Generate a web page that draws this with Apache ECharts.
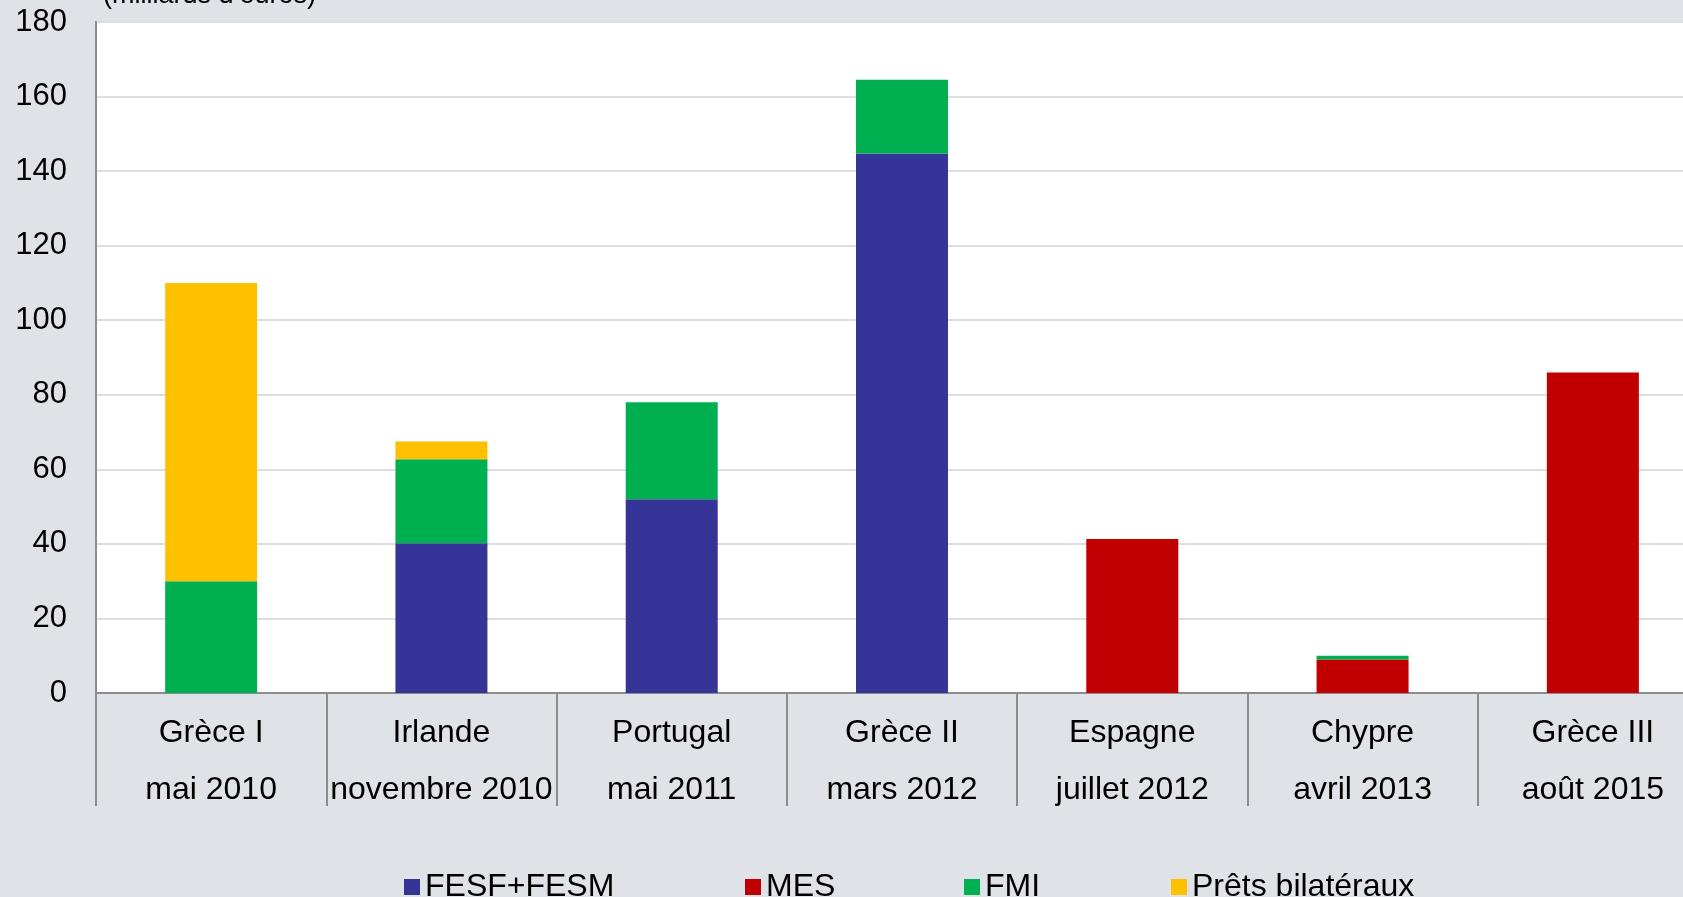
<!DOCTYPE html>
<html>
<head>
<meta charset="utf-8">
<script src="https://cdn.jsdelivr.net/npm/echarts@6/dist/echarts.min.js"></script>
<style>
  html, body { margin: 0; padding: 0; background: #dfe2e7; overflow: hidden; }
  #chart { width: 1730px; height: 897px; }
</style>
</head>
<body>
<div id="chart"></div>
<script>
// Programmes d'assistance financière (milliards d'euros)
const categories = [
  'Grèce I\nmai 2010',
  'Irlande\nnovembre 2010',
  'Portugal\nmai 2011',
  'Grèce II\nmars 2012',
  'Espagne\njuillet 2012',
  'Chypre\navril 2013',
  'Grèce III\naoût 2015'
];
const fesfFesm = [null, 40.2, 52, 144.7, null, null, null];
const mes = [null, null, null, null, 41.3, 9, 86];
const fmi = [30, 22.5, 26, 19.8, null, 1, null];
const pretsBilateraux = [80, 4.8, null, null, null, null, null];
const seriesNames = ['FESF+FESM', 'MES', 'FMI', 'Prêts bilatéraux'];
const seriesColors = ['#353597', '#c00000', '#00b050', '#ffc000'];
const yTicks = { min: 0, max: 180, interval: 20 };
const unitLabel = '(milliards d\u2019euros)';

const FONT = "'Liberation Sans', Arial, sans-serif";
const seriesData = [fesfFesm, mes, fmi, pretsBilateraux];
const legendLeft = [399, 740, 959, 1166];

const chart = echarts.init(document.getElementById('chart'));
chart.setOption({
  backgroundColor: '#dfe2e7',
  animation: false,
  textStyle: { fontFamily: FONT },
  grid: {
    left: 96, top: 22, width: 1612, bottom: 204,
    show: true, backgroundColor: '#ffffff',
    borderColor: '#8c8c8c', borderWidth: 2
  },
  graphic: [{
    type: 'text', left: 103, top: -18,
    style: { text: unitLabel, font: '27px ' + FONT, fill: '#000' }
  }],
  legend: seriesNames.map((n, i) => ({
    data: [n], left: legendLeft[i], top: 866,
    itemWidth: 16, itemHeight: 16, icon: 'rect',
    textStyle: { fontSize: 32, color: '#000', fontFamily: FONT, lineHeight: 32 },
    selectedMode: false
  })),
  xAxis: {
    type: 'category', data: categories, boundaryGap: true,
    axisLine: { lineStyle: { color: '#8c8c8c', width: 2 } },
    axisTick: { show: true, interval: 0, length: 113, lineStyle: { color: '#8c8c8c', width: 2 } },
    axisLabel: { interval: 0, fontSize: 32, color: '#000', lineHeight: 57, margin: 12, fontFamily: FONT }
  },
  yAxis: {
    type: 'value', min: yTicks.min, max: yTicks.max, interval: yTicks.interval,
    axisLine: { show: true, lineStyle: { color: '#8c8c8c', width: 2 } },
    axisTick: { show: false },
    axisLabel: { fontSize: 31, color: '#000', margin: 29, fontFamily: FONT },
    splitLine: { lineStyle: { color: '#dedede', width: 2 } }
  },
  series: seriesNames.map((n, i) => ({
    name: n, type: 'bar', stack: 'total', barWidth: 92,
    itemStyle: { color: seriesColors[i] },
    data: seriesData[i]
  }))
});
</script>
</body>
</html>
